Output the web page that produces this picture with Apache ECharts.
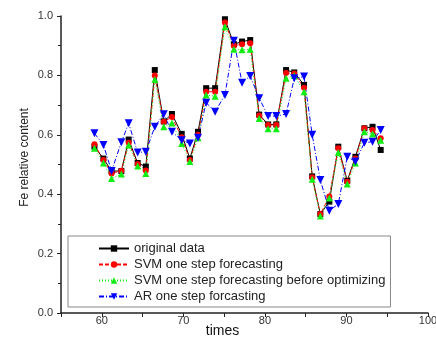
<!DOCTYPE html>
<html>
<head>
<meta charset="utf-8">
<script src="https://cdn.jsdelivr.net/npm/echarts@6/dist/echarts.min.js"></script>
<style>
  html, body { margin: 0; padding: 0; background: #fff; }
  #chart { width: 436px; height: 338px; }
</style>
</head>
<body>
<div id="chart"></div>
<script>
// x positions (times)
var times = [59.1, 60.2, 61.2, 62.4, 63.3, 64.4, 65.4, 66.5, 67.6, 68.6,
             69.8, 70.8, 71.8, 72.8, 73.9, 75.1, 76.2, 77.2, 78.2, 79.3,
             80.4, 81.4, 82.6, 83.6, 84.8, 85.8, 86.8, 87.9, 89.0, 90.1,
             91.1, 92.2, 93.2, 94.2];
var original = [0.560, 0.520, 0.478, 0.478, 0.584, 0.505, 0.493, 0.818, 0.645, 0.670,
                0.603, 0.520, 0.610, 0.757, 0.757, 0.989, 0.905, 0.914, 0.919, 0.668,
                0.635, 0.635, 0.818, 0.810, 0.768, 0.460, 0.333, 0.375, 0.560, 0.445,
                0.526, 0.622, 0.627, 0.549];
var svm = [0.568, 0.515, 0.470, 0.479, 0.573, 0.502, 0.480, 0.800, 0.644, 0.660,
           0.592, 0.515, 0.600, 0.745, 0.745, 0.978, 0.900, 0.905, 0.908, 0.665,
           0.633, 0.633, 0.808, 0.806, 0.758, 0.457, 0.333, 0.392, 0.555, 0.442,
           0.520, 0.622, 0.616, 0.588];
var svmBefore = [0.555, 0.505, 0.453, 0.468, 0.566, 0.495, 0.470, 0.786, 0.627, 0.640,
                 0.571, 0.510, 0.590, 0.734, 0.730, 0.964, 0.888, 0.886, 0.888, 0.655,
                 0.620, 0.620, 0.790, 0.800, 0.745, 0.450, 0.327, 0.387, 0.540, 0.434,
                 0.505, 0.610, 0.603, 0.582];
var ar = [0.605, 0.566, 0.478, 0.575, 0.639, 0.540, 0.543, 0.627, 0.669, 0.610,
          0.582, 0.571, 0.590, 0.708, 0.678, 0.734, 0.917, 0.775, 0.798, 0.723,
          0.663, 0.663, 0.670, 0.790, 0.796, 0.600, 0.448, 0.344, 0.367, 0.526,
          0.510, 0.573, 0.577, 0.616];
var names = ['original data', 'SVM one step forecasting',
             'SVM one step forecasting before optimizing', 'AR one step forcasting'];

function pairs(vals) {
  return vals.map(function (v, i) { return [times[i], v]; });
}

var chart = echarts.init(document.getElementById('chart'));
var font = '"Liberation Sans", Arial, sans-serif';

chart.setOption({
  backgroundColor: '#fff',
  animation: false,
  grid: { left: 61, right: 8, top: 16, bottom: 25, containLabel: false, outerBoundsMode: 'none' },
  legend: {
    orient: 'vertical',
    left: 68,
    top: 236,
    padding: [5, 5, 3, 30],
    itemWidth: 30,
    itemHeight: 8,
    itemGap: 1,
    borderColor: '#888',
    borderWidth: 1,
    borderRadius: 0,
    textStyle: { fontFamily: font, fontSize: 13, color: '#222', lineHeight: 15 },
    data: names
  },
  xAxis: {
    type: 'value',
    min: 55,
    max: 100,
    interval: 5,
    name: 'times',
    nameLocation: 'middle',
    nameGap: 11,
    nameMoveOverlap: false,
    nameTextStyle: { fontFamily: font, fontSize: 14, color: '#111', padding: [0, 44, 0, 0] },
    axisLine: { show: true, lineStyle: { color: '#222', width: 1.5 } },
    axisTick: { show: true, length: 4, lineStyle: { color: '#222' } },
    axisLabel: {
      margin: 2,
      fontFamily: font, fontSize: 11, color: '#333',
      formatter: function (v) { return v % 10 === 0 ? String(v) : ''; }
    },
    splitLine: { show: false }
  },
  yAxis: {
    type: 'value',
    min: 0,
    max: 1,
    interval: 0.2,
    name: 'Fe relative content',
    nameLocation: 'middle',
    nameGap: 30,
    nameMoveOverlap: false,
    nameTextStyle: { fontFamily: font, fontSize: 12, color: '#222', padding: [0, 0, 0, 14] },
    axisLine: { show: true, lineStyle: { color: '#222', width: 1.5 } },
    axisTick: { show: true, length: 4, lineStyle: { color: '#222' } },
    minorTick: { show: true, splitNumber: 2, length: 3, lineStyle: { color: '#222' } },
    axisLabel: {
      margin: 8,
      fontFamily: font, fontSize: 11, color: '#333',
      formatter: function (v) { return v.toFixed(1); }
    },
    splitLine: { show: false }
  },
  series: [
    {
      name: names[0], type: 'line', data: pairs(original),
      symbol: 'rect', symbolSize: 6,
      itemStyle: { color: '#000' },
      lineStyle: { color: '#000', width: 1, type: 'solid' }
    },
    {
      name: names[1], type: 'line', data: pairs(svm),
      symbol: 'circle', symbolSize: 6,
      itemStyle: { color: '#ff0000' },
      lineStyle: { color: '#ff0000', width: 1, type: [4, 2] }
    },
    {
      name: names[2], type: 'line', data: pairs(svmBefore),
      symbol: 'triangle', symbolSize: 7,
      itemStyle: { color: '#11ee11' },
      lineStyle: { color: '#11ee11', width: 1, type: [1, 2] }
    },
    {
      name: names[3], type: 'line', data: pairs(ar),
      symbol: 'path://M0,0 L10,0 L5,9 Z', symbolSize: 8,
      itemStyle: { color: '#0000ff' },
      lineStyle: { color: '#0000ff', width: 1, type: [5, 2, 1, 2] }
    }
  ]
});
</script>
</body>
</html>
